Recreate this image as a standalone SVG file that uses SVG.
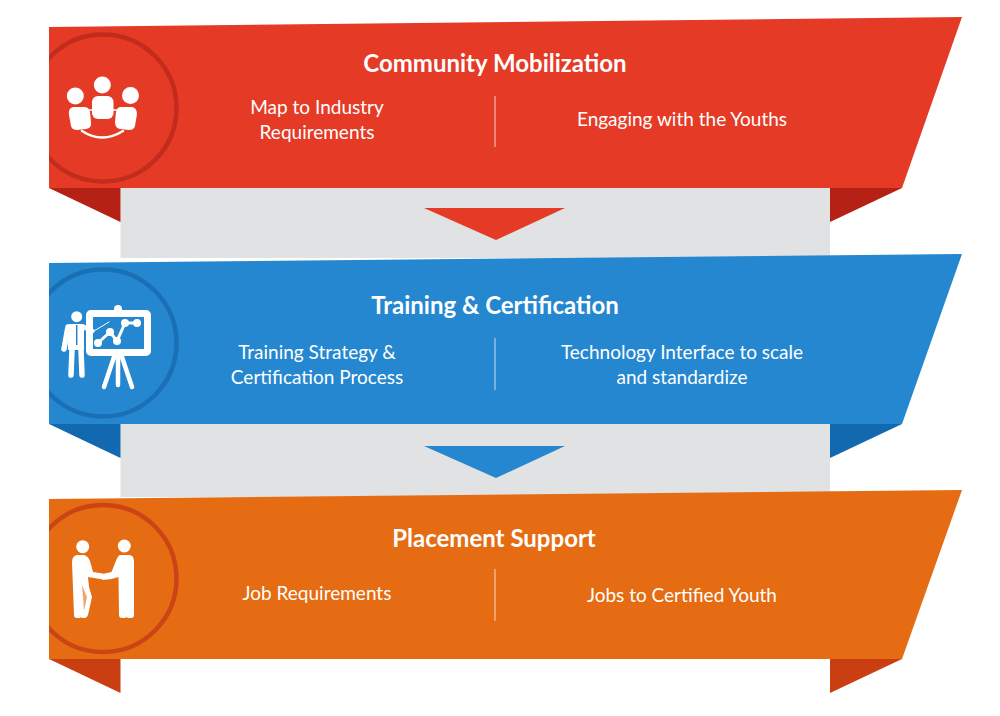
<svg xmlns="http://www.w3.org/2000/svg" width="1000" height="716" viewBox="0 0 1000 716">
<style>
text{font-family:"Lato","Open Sans",sans-serif;fill:#fff;text-anchor:middle}
.t{font-size:24px;font-weight:700}
.b{font-size:19px}
.d{stroke:#fff;stroke-opacity:.75;stroke-width:1;fill:none}
.w{fill:#fff}
.l{stroke:#fff;fill:none;stroke-linecap:round}
.ring{fill:none;stroke-width:4.500}
</style>
<defs><clipPath id="c1"><rect x="49" y="20" width="200" height="170"/></clipPath><clipPath id="c2"><rect x="49" y="255" width="200" height="170"/></clipPath><clipPath id="c3"><rect x="49" y="490" width="200" height="170"/></clipPath></defs>
<rect width="1000" height="716" fill="#fff"/>
<g id="connectors">
<rect x="120.500" y="186" width="709.500" height="72" fill="#e1e2e4"/>
<rect x="120.500" y="422" width="709.500" height="75" fill="#e1e2e4"/>
<polygon points="424,208 565,208 496,240" fill="#e53a26"/>
<polygon points="424,446 565,446 496,478" fill="#2587cf"/>
</g>
<g id="node-community">
<polygon points="49,188 120.500,188 120.500,222" fill="#b52114"/>
<polygon points="830,188 902,188 830,222" fill="#b52114"/>
<polygon points="49,27 962,17 902,188 49,188" fill="#e53a26"/>
<circle cx="103" cy="108" r="73.500" class="ring" stroke="#c22c1c" clip-path="url(#c1)"/>
<g id="icon-people">
<circle cx="102.300" cy="85" r="8.500" class="w"/><circle cx="75.300" cy="96" r="8.500" class="w"/><circle cx="130.500" cy="95.500" r="8.500" class="w"/>
<path d="M73 107h11q5 0 6 5l1 10q1 6-5 7l-9 1q-5 0-6-4l-2-11q-1-7 4-8z" class="w"/>
<path d="M121 107h11q5 1 5 7l-2 12q-1 4-6 4l-9-1q-5-1-5-7l1-10q1-5 5-5z" class="w"/>
<rect x="92" y="96" width="21.500" height="23" rx="6" class="w"/>
<path d="M82 131q20 13 41 0" class="l" stroke-width="2.500"/>
<path d="M88 110h4M113 110h4" class="l" stroke-width="1.500"/>
</g>
<text class="t" x="495" y="72">Community Mobilization</text>
<text class="b" x="317" y="114">Map to Industry</text><text class="b" x="317" y="139">Requirements</text>
<line class="d" x1="495" y1="96" x2="495" y2="147"/>
<text class="b" x="682" y="126">Engaging with the Youths</text>
</g>
<g id="node-training">
<polygon points="49,424 120.500,424 120.500,458" fill="#1369b0"/>
<polygon points="830,424 902,424 830,458" fill="#1369b0"/>
<polygon points="49,263 962,254 902,424 49,424" fill="#2587cf"/>
<circle cx="103" cy="343" r="73.500" class="ring" stroke="#1a70b4" clip-path="url(#c2)"/>
<g id="icon-presenter">
<circle cx="76.700" cy="316.700" r="5.500" class="w"/>
<path d="M71 324h12l2 1 10 5-1 3-10-3v20h-16v-25q0-1 3-1z" class="w"/>
<path d="M68 327l-4 22M72 350l-1 25M81 350l1 25" class="l" stroke-width="5.500"/>
<path d="M76.700 325v20" stroke="#2587cf" stroke-width="1.500"/>
<circle cx="118" cy="309" r="4" class="w"/>
<rect x="89.500" y="313.500" width="58" height="39" rx="1.500" fill="none" stroke="#fff" stroke-width="7"/>
<path d="M98 343l12-11 7 9 8-18h12" class="l" stroke-width="3"/>
<circle cx="98" cy="343" r="4" class="w"/><circle cx="110" cy="332" r="4" class="w"/><circle cx="117" cy="341" r="4" class="w"/><circle cx="125" cy="323" r="4" class="w"/><circle cx="137" cy="323" r="4" class="w"/>
<path d="M94 331l15-9" class="l" stroke-width="1"/>
<path d="M114 357l-10 30M118 357v28M122 357l10 30" class="l" stroke-width="4.500"/>
</g>
<text class="t" x="495" y="314">Training &amp; Certification</text>
<text class="b" x="317" y="359">Training Strategy &amp;</text><text class="b" x="317" y="384">Certification Process</text>
<line class="d" x1="495" y1="338" x2="495" y2="390"/>
<text class="b" x="682" y="359">Technology Interface to scale</text><text class="b" x="682" y="384">and standardize</text>
</g>
<g id="node-placement">
<polygon points="49,659 120.500,659 120.500,693" fill="#c93f12"/>
<polygon points="830,659 902,659 830,693" fill="#c93f12"/>
<polygon points="49,499 962,490 902,659 49,659" fill="#e56c12"/>
<circle cx="103" cy="578.500" r="73.500" class="ring" stroke="#cc4416" clip-path="url(#c3)"/>
<g id="icon-handshake">
<circle cx="82.700" cy="546.700" r="6.500" class="w"/><circle cx="124.300" cy="546" r="6.500" class="w"/>
<path d="M77 555h7q4 1 6 6l3 11 10 1.500v6l-15-2.500 1 10 3 10-4 18q-1 3-3 3h-3l-1-1-1 1h-3q-3 0-3-3l-2-53q0-6 5-7z" class="w"/>
<path d="M120 555h9q5 0 5 7v53q0 3-3 3h-3l-2-1-1 1h-3q-3 0-3-3l-.500-38-7 2-9 1v-6l9-2 4-10q2-6 4.500-7z" class="w"/>
<path d="M82 585l2 26 3-14z" fill="#e56c12" opacity=".6"/>
</g>
<text class="t" x="494" y="547">Placement Support</text>
<text class="b" x="317" y="600">Job Requirements</text>
<line class="d" x1="495" y1="569" x2="495" y2="621"/>
<text class="b" x="682" y="602">Jobs to Certified Youth</text>
</g>
</svg>
